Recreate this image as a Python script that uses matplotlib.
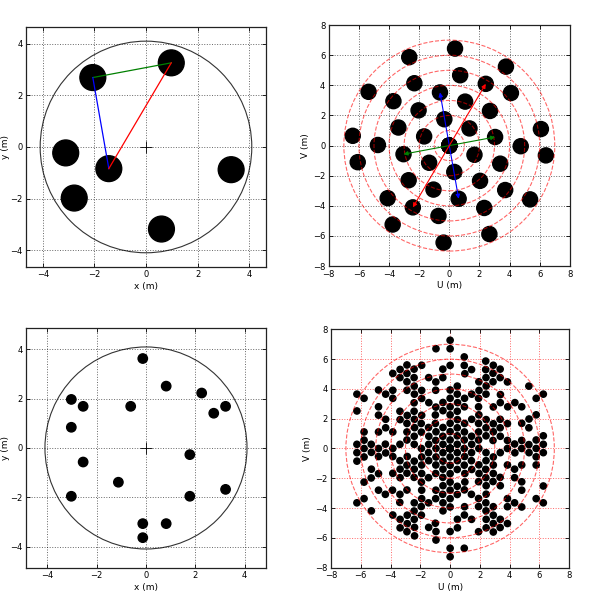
import numpy as np
import matplotlib.pyplot as plt
from matplotlib.patches import Circle

# antenna positions (m), 7 element array
ant7_x = [-2.06, 0.98, -1.44, -3.11, -2.78, 0.60, 3.30]
ant7_y = [2.69, 3.26, -0.84, -0.23, -1.98, -3.18, -0.88]

# antenna positions (m), 18 element array
ant18_x = [-0.13, 0.82, 2.26, 3.23, 2.75, -3.03, -2.55, -0.62, -3.03,
           1.78, -2.55, -1.12, -3.03, 1.78, 3.23, -0.13, 0.82, -0.13]
ant18_y = [3.63, 2.51, 2.23, 1.69, 1.41, 1.97, 1.69, 1.69, 0.84,
           -0.27, -0.57, -1.39, -1.96, -1.96, -1.68, -3.07, -3.07, -3.64]

array_radius = 4.1
uv_rings = [1, 2, 3, 4, 5, 6, 7]

# highlighted baselines: (antenna i, antenna j, colour)
highlight = [(0, 1, 'g'), (0, 2, 'b'), (2, 1, 'r')]


def baselines(x, y):
    x = np.asarray(x)
    y = np.asarray(y)
    u = (x[:, None] - x[None, :]).ravel()
    v = (y[:, None] - y[None, :]).ravel()
    return u, v


def style_axes(ax, lim, ticks, gridcolor='k'):
    ax.set_xlim(-lim, lim)
    ax.set_ylim(-lim, lim)
    ax.set_xticks(ticks)
    ax.set_yticks(ticks)
    ax.set_aspect('equal')
    ax.grid(True, color=gridcolor, linestyle=':', linewidth=0.7, alpha=0.6)
    ax.tick_params(direction='in', top=True, right=True, labelsize=6, length=3,
                   width=0.6, pad=2.5)
    for s in ax.spines.values():
        s.set_linewidth(0.9)
        s.set_color('#222222')


def plot_array(ax, x, y, r, lim, lines=None):
    ax.add_patch(Circle((0, 0), array_radius, fill=False, color='#333333', lw=0.8))
    for xi, yi in zip(x, y):
        ax.add_patch(Circle((xi, yi), r, color='k', zorder=3))
    if lines:
        for i, j, c in lines:
            ax.plot([x[i], x[j]], [y[i], y[j]], color=c, lw=0.9, zorder=4)
    ax.plot(0, 0, 'k+', ms=8, mew=0.6, zorder=5)
    style_axes(ax, lim, [-4, -2, 0, 2, 4])
    ax.set_xlabel('x (m)', fontsize=6.5, labelpad=2)
    ax.set_ylabel('y (m)', fontsize=6.5, labelpad=0)


def plot_uv(ax, x, y, r, gridcolor, lines=None):
    u, v = baselines(x, y)
    for ui, vi in zip(u, v):
        ax.add_patch(Circle((ui, vi), r, color='k', zorder=3))
    for rr in uv_rings:
        ax.add_patch(Circle((0, 0), rr, fill=False, color='r', ls='--', lw=0.8, alpha=0.6, zorder=4))
    if lines:
        for i, j, c in lines:
            du = x[j] - x[i]
            dv = y[j] - y[i]
            for sgn in (1, -1):
                ax.annotate('', xy=(sgn * du, sgn * dv), xytext=(0, 0),
                            arrowprops=dict(arrowstyle='-|>', color=c, lw=0.8,
                                            mutation_scale=6, shrinkA=0, shrinkB=0),
                            zorder=5)
    style_axes(ax, 8, [-8, -6, -4, -2, 0, 2, 4, 6, 8], gridcolor)
    ax.set_xlabel('U (m)', fontsize=6.5, labelpad=2)
    ax.set_ylabel('V (m)', fontsize=6.5, labelpad=2)


fig = plt.figure(figsize=(6, 5.95), dpi=100)
ax1 = fig.add_axes([0.0433, 0.5513, 0.40, 0.4034])
ax2 = fig.add_axes([0.548, 0.5513, 0.4017, 0.408])
ax3 = fig.add_axes([0.0433, 0.0454, 0.40, 0.4034])
ax4 = fig.add_axes([0.5517, 0.0454, 0.397, 0.4017])

plot_array(ax1, ant7_x, ant7_y, 0.5, 4.65, highlight)
plot_uv(ax2, ant7_x, ant7_y, 0.5, 'k', highlight)
plot_array(ax3, ant18_x, ant18_y, 0.19, 4.87)
plot_uv(ax4, ant18_x, ant18_y, 0.21, 'r')

fig.savefig('out.png', dpi=100)
